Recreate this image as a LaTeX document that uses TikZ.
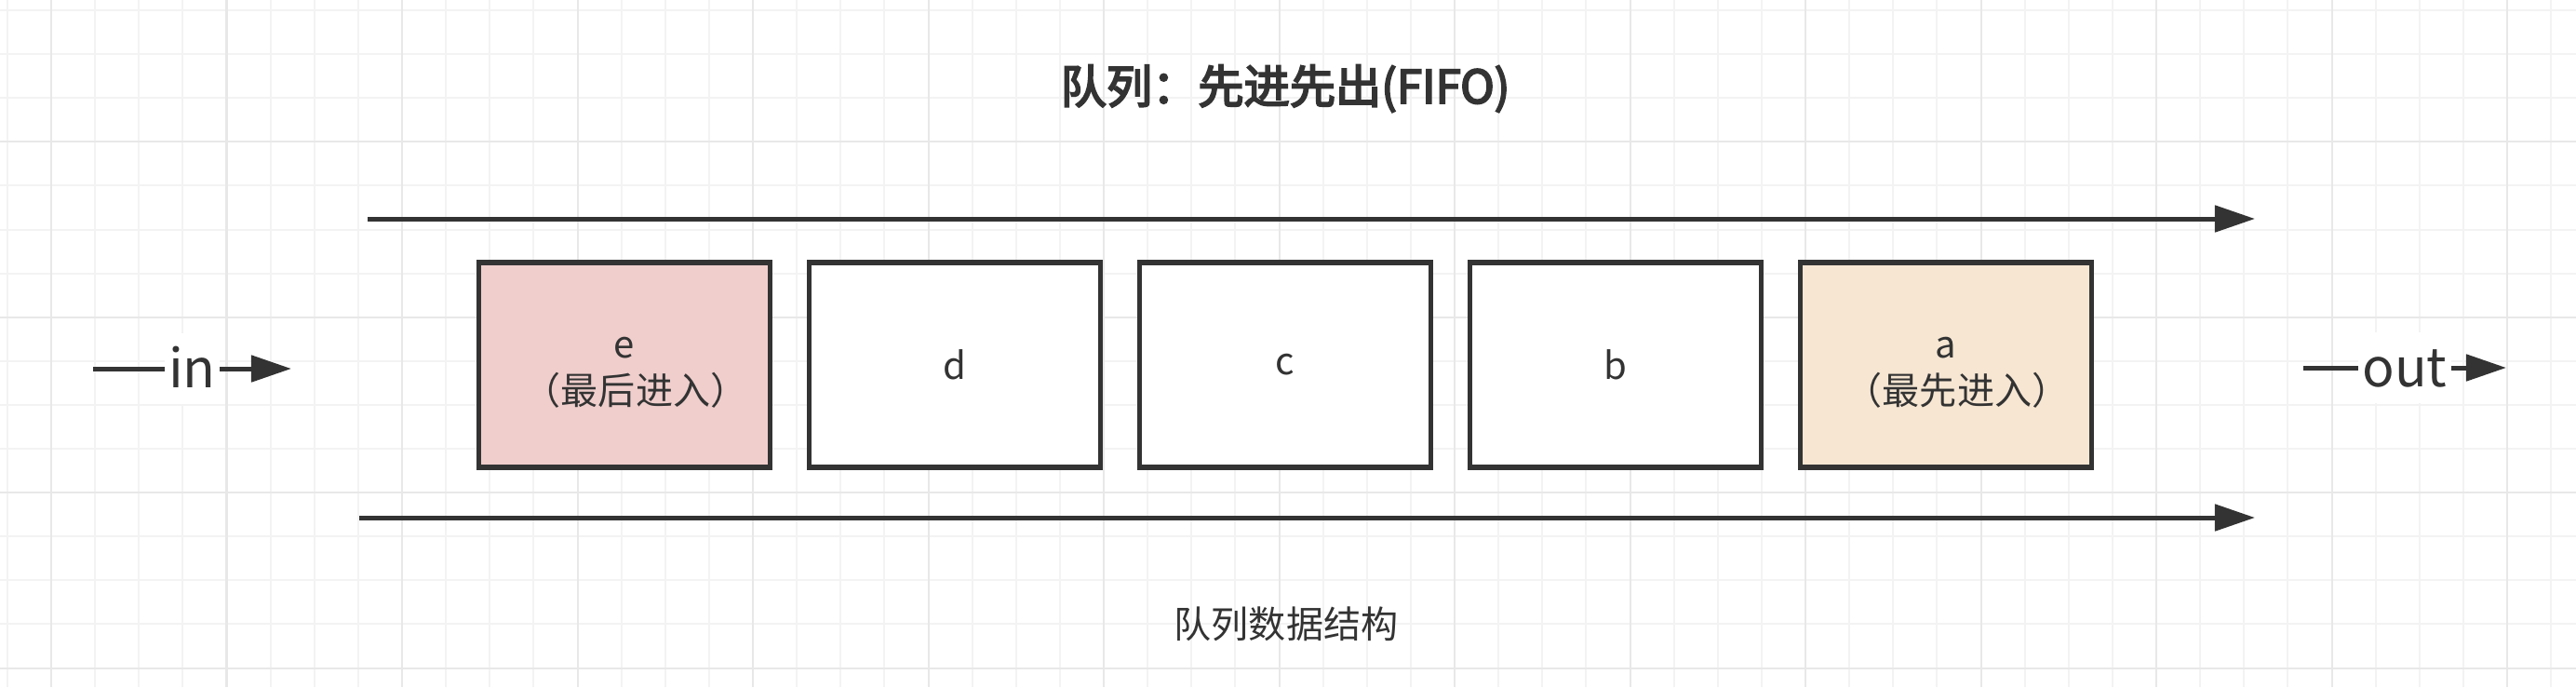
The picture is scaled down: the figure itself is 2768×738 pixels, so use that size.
\documentclass[tikz,border=0pt]{standalone}
\usepackage{fontspec}
\setmainfont{Noto Sans CJK SC}
\newfontfamily\titlefont{Noto Sans CJK SC}[FakeBold=4]
\usetikzlibrary{arrows.meta}
\definecolor{ink}{HTML}{333333}
\definecolor{gminor}{HTML}{F3F3F3}
\definecolor{gmajor}{HTML}{E8E8E8}
\definecolor{efill}{HTML}{EFCECC}
\definecolor{afill}{HTML}{F6E6D2}
\tikzset{
  cell/.style={draw=ink, line width=1.55pt, minimum width=3.13cm, minimum height=2.2cm, inner sep=0pt,
    text=ink, font=\fontsize{11.4}{14}\selectfont, align=center},
  flow/.style={draw=ink, line width=1.42pt, -{Triangle[length=0.43cm,width=0.28cm]}},
  lbl/.style={fill=white, text=ink, font=\fontsize{16.3}{19}\selectfont, inner xsep=0.04cm, inner ysep=0.04cm,
    text height=0.54cm, text depth=0.13cm},
  gridminor/.style={draw=gminor, line width=0.57pt},
  gridmajor/.style={draw=gmajor, line width=0.57pt},
}
\begin{document}
\begin{tikzpicture}[x=0.01cm, y=-0.01cm]
\useasboundingbox[fill=white] (0,0) rectangle (2768,738);
% grid
\foreach \k in {0,...,58} {
  \pgfmathsetmacro\xx{7.875+47.125*\k}
  \draw[gridminor] (\xx,0) -- (\xx,738);
}
\foreach \k in {0,...,15} {
  \pgfmathsetmacro\yy{11+47.1*\k}
  \draw[gridminor] (0,\yy) -- (2768,\yy);
}
\foreach \k in {0,...,14} {
  \pgfmathsetmacro\xx{55+188.5*\k}
  \draw[gridmajor] (\xx,0) -- (\xx,738);
}
\foreach \k in {0,...,3} {
  \pgfmathsetmacro\yy{152.3+188.4*\k}
  \draw[gridmajor] (0,\yy) -- (2768,\yy);
}
% title and caption
\node[text=ink, font=\fontsize{14}{16}\selectfont\titlefont] (title) at (1381,95) {队列：先进先出(FIFO)};
\node[text=ink, font=\fontsize{11.4}{14}\selectfont] (caption) at (1382,670) {队列数据结构};
% cells
\node[cell, fill=efill] (e) at (671,392) {\rule{0pt}{0.39cm}e\\\hspace*{0.6em}（最后进入）};
\node[cell, fill=white] (d) at (1026,392) {d};
\node[cell, fill=white] (c) at (1381,392) {c};
\node[cell, fill=white] (b) at (1736,392) {b};
\node[cell, fill=afill] (a) at (2091,392) {\rule{0pt}{0.39cm}a\\\hspace*{0.6em}（最先进入）};
% long arrows
\coordinate (ts) at (395,235);
\coordinate (te) at (2423,235);
\coordinate (bs) at (386,556);
\coordinate (be) at (2423,556);
\draw[flow] (ts) -- (te);
\draw[flow] (bs) -- (be);
% in / out
\coordinate (ins) at (100,396);
\coordinate (ine) at (313,396);
\coordinate (outs) at (2475,395);
\coordinate (oute) at (2693,395);
\draw[flow] (ins) -- node[lbl] (inlbl) {in} (ine);
\draw[flow] (outs) -- node[lbl] (outlbl) {out} (oute);
\end{tikzpicture}
\end{document}
